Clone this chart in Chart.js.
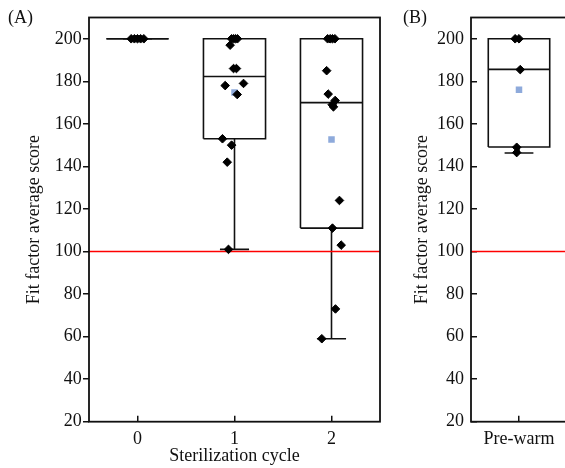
<!DOCTYPE html>
<html>
<head>
<meta charset="utf-8">
<script src="https://cdn.jsdelivr.net/npm/chart.js@4"></script>
<style>
  html, body { margin: 0; padding: 0; background: #fff; overflow: hidden; }
  #wrapA { position: absolute; left: 0; top: 0; width: 390px; height: 468px; }
  #wrapB { position: absolute; left: 390px; top: 0; width: 175px; height: 468px; overflow: hidden; }
  .tag { position: absolute; top: 8px; font: 18px 'Liberation Serif', 'Times New Roman', serif; line-height: 18px; color: #111; }
</style>
</head>
<body>
<div id="wrapA"><canvas id="chartA" width="390" height="468"></canvas></div>
<div id="wrapB"><canvas id="chartB" width="190" height="468"></canvas></div>
<div class="tag" style="left:8px">(A)</div>
<div class="tag" style="left:403px">(B)</div>
<script>
// values
const cycleLabels = ['0', '1', '2'];
const cycleQ1 = [200, 153, 111];
const cycleMedian = [200, 182.3, 170];
const cycleQ3 = [200, 200, 200];
const cycleMin = [200, 101, 59];
const cycleMax = [200, 200, 200];
const cycleMean = [200, 174.8, 152.7];
const cyclePoints = [
    [200, 200, 200, 200, 200],
    [200, 200, 200, 200, 197, 186, 186, 179, 178, 173.8, 153, 150, 142, 101],
    [200, 200, 200, 200, 185, 174, 171, 169, 168, 124, 111, 103, 73, 59]
];
// horizontal jitter of each point (in category units)
const cycleJitter = [
    [-0.065, -0.032, 0, 0.032, 0.065],
    [-0.03, -0.01, 0.01, 0.03, -0.045, -0.01, 0.02, 0.093, -0.096, 0.028, -0.124, -0.03, -0.075, -0.062],
    [-0.04, -0.015, 0.01, 0.035, -0.05, -0.034, 0.038, 0.007, 0.02, 0.082, 0.01, 0.1, 0.041, -0.1]
];

const warmLabels = ['Pre-warm'];
const warmQ1 = [149.1];
const warmMedian = [185.6];
const warmQ3 = [200];
const warmMin = [146.3];
const warmMax = [200];
const warmMean = [176];
const warmPoints = [[200, 200, 185.5, 149, 146.5]];
const warmJitter = [[-0.04, 0, 0.013, -0.024, -0.024]];

const passLevel = 100;
const yTicks = [20, 40, 60, 80, 100, 120, 140, 160, 180, 200];

const INK = '#111';
const BOX_HALF = 0.32;
const CAP_HALF = 0.15;

Chart.defaults.font.family = "'Liberation Serif', 'Times New Roman', serif";
Chart.defaults.font.size = 18;
Chart.defaults.color = INK;

function lineSet(points, color, width, order) {
    return {
        data: points,
        showLine: true,
        borderColor: color,
        borderWidth: width,
        borderCapStyle: 'butt',
        borderJoinStyle: 'miter',
        pointRadius: 0,
        fill: false,
        order: order
    };
}

function buildDatasets(s) {
    const sets = [];
    s.q1.forEach((_, i) => {
        const l = i - BOX_HALF, r = i + BOX_HALF;
        sets.push(lineSet([{x: l, y: s.q1[i]}, {x: r, y: s.q1[i]}, {x: r, y: s.q3[i]}, {x: l, y: s.q3[i]}, {x: l, y: s.q1[i]}], INK, 1.6, 3));
        sets.push(lineSet([{x: l, y: s.med[i]}, {x: r, y: s.med[i]}], INK, 1.6, 3));
        sets.push(lineSet([{x: i, y: s.q1[i]}, {x: i, y: s.min[i]}], INK, 1.6, 3));
        sets.push(lineSet([{x: i, y: s.q3[i]}, {x: i, y: s.max[i]}], INK, 1.6, 3));
        sets.push(lineSet([{x: i - CAP_HALF, y: s.min[i]}, {x: i + CAP_HALF, y: s.min[i]}], INK, 1.6, 3));
    });
    // pass level
    sets.push(lineSet([{x: -0.5, y: passLevel}, {x: s.q1.length - 0.5, y: passLevel}], '#ff0000', 1.5, 2));
    // means
    sets.push({
        data: s.mean.map((m, i) => ({x: i, y: m})),
        pointStyle: 'rect',
        pointRadius: 4.6,
        backgroundColor: '#8eaadb',
        borderWidth: 0,
        order: 1
    });
    // individual scores
    const pts = [];
    s.points.forEach((arr, i) => arr.forEach((v, j) => pts.push({x: i + s.jitter[i][j], y: v})));
    sets.push({
        data: pts,
        pointStyle: 'rectRot',
        pointRadius: 4.3,
        backgroundColor: '#000',
        borderColor: '#000',
        borderWidth: 1,
        order: 0
    });
    return sets;
}

const framePlugin = {
    id: 'frame',
    afterDraw(chart) {
        const { ctx, chartArea: a } = chart;
        ctx.save();
        ctx.strokeStyle = INK;
        ctx.lineWidth = 1.8;
        ctx.strokeRect(a.left, a.top, a.right - a.left, a.bottom - a.top);
        ctx.restore();
    }
};

function makePanel(id, s, p) {
    new Chart(document.getElementById(id), {
        type: 'scatter',
        data: { datasets: buildDatasets(s) },
        options: {
            responsive: false,
            animation: false,
            layout: { padding: { left: 0, top: 17.5, right: p.padRight, bottom: 0 } },
            plugins: { legend: { display: false }, tooltip: { enabled: false } },
            scales: {
                x: {
                    type: 'linear',
                    min: -0.5,
                    max: s.labels.length - 0.5,
                    afterBuildTicks: sc => { sc.ticks = s.labels.map((_, i) => ({ value: i })); },
                    ticks: { callback: v => s.labels[v], padding: 13, maxRotation: 0, autoSkip: false },
                    grid: { drawOnChartArea: false, tickLength: -6, color: INK, lineWidth: 1.5 },
                    border: { display: false },
                    title: { display: !!p.xTitle, text: p.xTitle || '', padding: { top: 0, bottom: 0.5 } },
                    afterFit: sc => { sc.height = 46.3; sc.paddingLeft = 0; sc.paddingRight = 0; }
                },
                y: {
                    min: 20,
                    max: 210,
                    afterBuildTicks: sc => { sc.ticks = yTicks.map(v => ({ value: v })); },
                    ticks: { padding: p.yTickPad, autoSkip: false },
                    grid: { drawOnChartArea: false, tickLength: p.yTickLen, color: INK, lineWidth: 1.5 },
                    border: { display: false },
                    title: { display: true, text: 'Fit factor average score', padding: { top: p.yTitlePad, bottom: 0 } },
                    afterFit: sc => { sc.width = p.yWidth; sc.paddingTop = 0; sc.paddingBottom = 0; }
                }
            }
        },
        plugins: [framePlugin]
    });
}

makePanel('chartA', {
    labels: cycleLabels, q1: cycleQ1, med: cycleMedian, q3: cycleQ3,
    min: cycleMin, max: cycleMax, mean: cycleMean, points: cyclePoints, jitter: cycleJitter
}, { padRight: 10, yWidth: 89, yTickLen: 6, yTickPad: 1.3, yTitlePad: 23.5, xTitle: 'Sterilization cycle' });

makePanel('chartB', {
    labels: warmLabels, q1: warmQ1, med: warmMedian, q3: warmQ3,
    min: warmMin, max: warmMax, mean: warmMean, points: warmPoints, jitter: warmJitter
}, { padRight: 13, yWidth: 81, yTickLen: -6, yTickPad: 13, yTitlePad: 21 });
</script>
</body>
</html>
